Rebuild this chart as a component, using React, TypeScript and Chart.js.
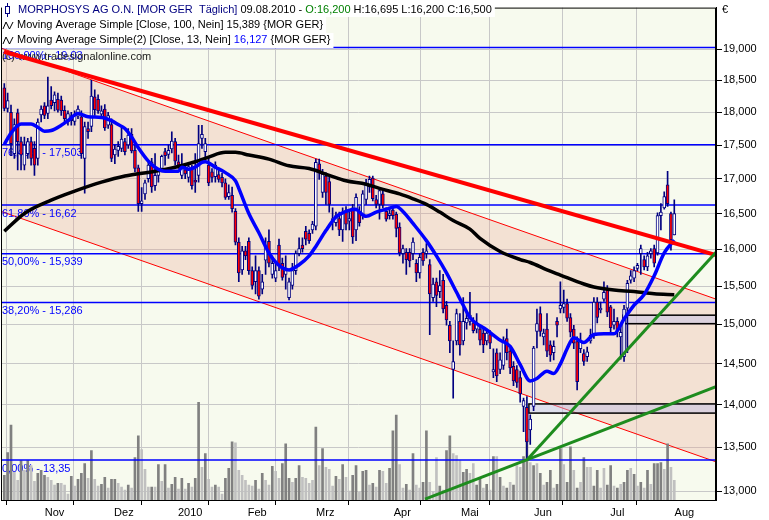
import React, { useEffect, useRef } from 'react';
import { Chart, registerables } from 'chart.js';
Chart.register(...registerables);

// ---- daily candles (23.10.2009 .. 09.08.2010), index = trading day ----
const opens = [
  18.38,18.06,18.00,17.37,17.99,17.55,17.20,17.37,17.55,17.45,
  17.30,17.96,18.10,17.98,18.19,18.15,18.20,18.19,18.03,17.85,
  17.95,17.86,17.94,17.93,17.30,17.75,17.78,18.24,18.20,17.97,
  18.05,17.80,17.81,17.35,17.42,17.45,17.55,17.50,17.66,17.42,
  17.16,16.64,16.78,17.00,17.25,16.90,17.05,17.15,17.40,17.36,
  17.44,17.55,17.25,17.05,17.13,17.02,17.16,16.98,17.05,17.60,
  17.40,17.20,17.10,17.03,17.06,17.02,16.94,16.74,16.76,16.53,
  16.10,15.72,15.98,16.11,15.71,15.56,15.71,15.46,15.85,16.11,
  15.66,15.61,16.06,15.81,15.66,15.35,15.51,15.71,15.94,16.06,
  16.25,16.22,16.27,16.32,17.22,16.80,17.04,16.96,16.41,16.37,
  16.43,16.27,16.52,16.39,16.58,16.27,16.52,16.47,16.70,16.88,
  17.01,16.70,16.63,16.78,16.53,16.47,16.55,16.49,16.31,15.94,
  15.96,15.96,15.94,15.81,15.68,15.96,15.94,15.79,15.35,15.56,
  15.43,15.58,15.25,14.99,14.43,14.79,15.04,14.79,15.02,15.04,
  15.02,14.94,14.94,14.89,14.79,14.87,14.40,14.64,14.43,14.48,
  14.82,14.66,14.47,14.43,14.33,13.98,13.97,13.70,13.98,14.91,
  15.14,14.84,14.94,14.74,14.64,15.04,15.20,15.22,15.27,15.09,
  14.94,14.78,14.69,14.63,14.59,14.79,14.86,15.29,15.19,15.33,
  15.46,15.23,14.99,15.04,14.84,14.59,15.21,15.58,15.61,15.74,
  15.94,15.86,15.76,15.94,16.01,15.95,16.47,16.58,16.91,16.50,
  16.20,
];
const highs = [
  18.45,18.30,18.11,17.90,18.05,17.62,17.62,17.60,17.62,17.55,
  17.90,18.10,18.15,18.55,18.40,18.32,18.30,18.25,18.10,18.02,
  18.00,18.02,18.10,18.02,17.85,17.85,18.50,18.35,18.27,18.10,
  18.12,18.00,17.90,17.50,17.55,17.80,17.60,17.75,17.75,17.50,
  17.20,16.87,16.98,17.25,17.30,17.37,17.15,17.35,17.45,17.50,
  17.70,17.60,17.35,17.37,17.20,17.20,17.20,17.37,17.80,17.80,
  17.60,17.30,17.15,17.25,17.15,17.08,17.00,16.91,16.88,16.57,
  16.16,16.04,16.04,16.16,15.76,15.91,15.76,15.66,16.16,16.27,
  15.91,15.81,16.14,15.88,15.91,15.61,15.81,15.98,16.16,16.16,
  16.32,16.27,16.39,17.29,17.29,17.14,17.09,17.02,16.58,16.52,
  16.52,16.58,16.60,16.52,16.63,16.78,16.60,16.83,16.99,17.04,
  17.04,16.76,16.86,16.83,16.58,16.58,16.58,16.52,16.37,16.06,
  16.01,16.01,16.16,15.86,15.94,16.01,16.08,15.86,15.61,15.61,
  15.71,15.66,15.30,15.04,14.79,15.20,15.14,15.35,15.14,15.42,
  15.09,15.14,14.99,14.94,14.94,14.92,14.69,14.69,14.64,14.84,
  14.94,14.72,14.53,14.48,14.41,14.08,14.10,13.88,14.72,15.20,
  15.23,14.94,15.14,14.79,14.79,15.09,15.56,15.45,15.33,15.14,
  14.99,14.84,14.89,14.68,14.71,14.94,15.35,15.35,15.29,15.56,
  15.51,15.25,15.20,15.09,14.99,15.25,15.58,15.71,15.76,15.81,
  16.06,15.91,15.96,16.01,16.06,16.51,16.64,16.81,17.11,16.52,
  16.695,
];
const lows = [
  18.02,18.00,17.34,17.30,17.13,17.13,17.13,17.30,17.20,17.05,
  17.20,17.85,17.90,17.90,18.05,18.02,18.00,17.95,17.85,17.80,
  17.80,17.80,17.90,17.30,16.79,17.60,17.70,17.95,17.98,17.90,
  17.72,17.75,17.25,17.22,17.33,17.40,17.35,17.45,17.38,17.10,
  16.53,16.53,16.70,16.95,16.80,16.83,16.95,17.10,17.20,17.30,
  17.38,17.20,17.15,17.00,17.00,16.95,16.85,16.80,16.95,17.45,
  17.30,16.90,16.95,16.95,16.95,16.88,16.70,16.70,16.52,16.06,
  15.56,15.66,15.86,15.66,15.46,15.40,15.33,15.40,15.66,15.76,
  15.61,15.56,15.71,15.58,15.46,15.32,15.46,15.66,15.91,15.96,
  16.06,16.08,16.22,16.27,16.99,16.73,16.63,16.52,16.27,16.32,
  16.19,16.11,16.27,16.27,16.08,16.12,16.32,16.42,16.63,16.80,
  16.68,16.58,16.42,16.58,16.39,16.42,16.42,16.17,15.91,15.81,
  15.66,15.76,15.86,15.56,15.61,15.78,15.88,14.87,15.30,15.23,
  15.35,15.15,14.99,14.64,14.08,14.74,14.61,14.74,14.94,14.99,
  14.89,14.89,14.74,14.64,14.74,14.69,14.33,14.28,14.38,14.43,
  14.55,14.38,14.23,14.21,14.03,13.68,13.35,13.53,13.93,14.70,
  14.85,14.74,14.59,14.53,14.55,14.84,15.15,15.15,15.04,14.84,
  14.69,14.18,14.64,14.48,14.53,14.76,14.82,15.02,15.15,15.30,
  15.10,14.90,14.94,14.84,14.56,14.53,14.64,15.54,15.56,15.71,
  15.66,15.72,15.71,15.88,15.76,15.92,16.27,16.56,16.60,15.99,
  16.20,
];
const closes = [
  18.06,18.18,17.52,17.81,17.55,17.35,17.50,17.55,17.30,17.20,
  17.85,18.05,17.95,18.10,18.10,18.27,18.03,18.02,17.90,17.98,
  17.87,17.96,18.05,17.37,17.78,17.70,18.25,18.04,18.02,18.02,
  17.76,17.95,17.30,17.44,17.48,17.59,17.40,17.65,17.41,17.15,
  16.64,16.68,16.94,17.20,16.88,17.05,17.12,17.33,17.34,17.42,
  17.56,17.26,17.20,17.15,17.07,17.18,16.90,16.95,17.52,17.66,
  17.52,16.94,17.02,17.20,16.99,16.94,16.73,16.80,16.57,16.10,
  15.68,15.98,15.91,15.71,15.51,15.71,15.37,15.56,16.04,15.81,
  15.81,15.71,15.78,15.62,15.71,15.56,15.71,15.94,16.01,16.01,
  16.14,16.12,16.35,17.24,17.09,17.07,16.80,16.63,16.43,16.47,
  16.27,16.52,16.35,16.43,16.17,16.73,16.37,16.78,16.93,16.99,
  16.71,16.63,16.83,16.62,16.42,16.50,16.47,16.29,15.95,16.01,
  15.86,15.84,16.10,15.68,15.89,15.84,15.98,15.40,15.53,15.38,
  15.51,15.20,15.06,14.79,14.53,15.14,14.74,15.04,15.08,15.12,
  14.92,15.02,14.80,14.74,14.89,14.76,14.43,14.35,14.55,14.79,
  14.64,14.45,14.29,14.27,14.13,14.05,13.56,13.83,14.70,15.01,
  14.91,14.89,14.66,14.61,14.72,14.99,15.25,15.27,15.08,14.90,
  14.76,14.28,14.79,14.53,14.65,14.86,15.29,15.09,15.21,15.42,
  15.16,14.96,15.04,14.92,14.90,15.20,15.54,15.64,15.71,15.78,
  16.01,15.76,15.91,15.98,15.81,16.47,16.52,16.74,16.64,16.13,
  16.50,
];
// volume in thousand shares, tone 1 = dark bar, 0 = light bar
const volumes = [
  100,192,304,112,80,160,120,160,140,76,
  108,120,100,92,80,60,68,68,60,24,
  96,56,84,108,148,88,200,84,56,64,
  92,48,84,84,68,52,40,60,48,172,
  260,204,124,52,52,52,144,76,144,48,
  64,92,44,88,44,68,52,88,396,132,
  188,84,52,60,52,24,88,128,236,232,
  120,100,80,60,56,80,44,108,80,60,
  136,116,88,148,228,88,72,88,140,92,
  88,68,80,296,140,208,132,124,56,96,
  84,144,92,36,100,140,32,116,120,60,
  68,52,120,116,68,128,280,344,144,48,
  64,40,188,60,48,72,280,72,32,172,
  56,40,200,260,188,180,160,112,124,108,
  148,60,92,48,64,40,176,176,92,56,
  48,72,60,140,132,176,248,152,140,148,
  108,60,72,120,48,64,208,144,72,216,
  120,48,72,172,132,132,56,120,48,128,
  60,140,56,48,64,72,120,128,104,56,
  72,48,120,64,148,148,152,124,228,132,
  80,
];
const volTone = [
  1,1,1,0,0,1,0,1,0,0, 1,1,1,0,0,0,1,0,0,0, 1,0,1,1,1,0,1,0,0,1, 1,0,1,1,0,0,0,1,0,1,
  1,0,0,0,1,0,1,0,1,0, 1,1,0,1,0,1,0,1,1,0, 1,0,0,1,0,0,1,1,1,0, 0,0,0,0,0,1,0,1,0,0,
  1,0,0,1,1,1,0,1,1,0, 0,0,0,1,0,1,0,0,0,1, 0,1,0,0,1,1,0,1,1,0, 1,0,1,0,0,1,1,1,0,0,
  1,0,1,0,0,1,1,0,0,0, 1,0,1,1,0,0,0,1,1,0, 0,1,1,0,1,0,1,0,1,0, 1,0,1,0,0,1,1,0,1,0,
  1,0,1,1,0,1,1,0,1,1, 0,1,0,1,0,0,1,1,0,0, 1,1,0,1,0,1,1,0,1,0, 1,0,1,0,1,1,1,0,1,0,
  0,
];

// ---- moving averages (day index, value) ----
const ma100Idx = [0,6,14,21,29,36,45,51,57,61,66,69,73,79,85,91,97,102,108,112,118,122,126,130,134,139,142,148,154,157,162,166,173,176,182,188,194,200];
const ma100Val = [16.25,16.50,16.69,16.82,16.95,17.04,17.11,17.17,17.25,17.32,17.39,17.39,17.35,17.29,17.19,17.15,17.05,16.97,16.92,16.86,16.78,16.71,16.63,16.52,16.40,16.28,16.15,15.97,15.86,15.82,15.72,15.65,15.53,15.49,15.45,15.43,15.40,15.389];
const ma13Idx = [0,2,5,8,10,12,14,17,19,22,25,29,32,34,36,38,40,43,45,48,52,53,55,57,59,60,63,66,69,70,73,76,79,82,85,88,91,93,96,99,102,105,106,108,111,114,117,119,122,126,129,132,135,137,139,144,148,151,154,157,159,162,164,166,168,170,173,176,179,182,185,188,191,194,197,200];
const ma13Val = [17.51,17.68,17.82,17.82,17.77,17.71,17.72,17.80,17.87,17.98,17.93,17.92,17.87,17.81,17.75,17.62,17.46,17.26,17.17,17.11,17.11,17.17,17.14,17.17,17.24,17.25,17.17,17.09,16.97,16.86,16.50,16.23,15.95,15.78,15.72,15.79,15.91,16.04,16.26,16.45,16.53,16.56,16.52,16.46,16.52,16.56,16.60,16.53,16.36,16.12,15.91,15.68,15.42,15.25,15.09,14.93,14.80,14.72,14.49,14.29,14.32,14.41,14.38,14.50,14.69,14.83,14.77,14.87,14.88,14.88,15.07,15.25,15.39,15.64,15.95,16.127];

// ---- drawn studies (day index, price) ----
const channelIdx = [-0.985, 212.45];
const channelUpper = [19.02, 15.33];
const channelLower = [16.53, 13.33];
const resistIdx = [-0.1, 212.45];
const resistVal = [18.96, 15.92];
const supportSteepIdx = [156, 212.45];
const supportSteepVal = [13.35, 15.96];
const supportFlatIdx = [125.6, 212.45];
const supportFlatVal = [12.91, 14.22];
const boxFrom = [156.6, 184.7];
const boxLow = [13.90, 15.01];
const boxHigh = [14.01, 15.12];

// ---- Fibonacci retracement ----
const fibPct = ['100,00%', '76,40%', '61,80%', '50,00%', '38,20%', '0,00%'];
const fibVal = [19.03, 17.503, 16.62, 15.939, 15.286, 13.35];
const fibText = ['19,03', '17,503', '16,62', '15,939', '15,286', '13,35'];

// ---- axes ----
const yTicks = [13, 13.5, 14, 14.5, 15, 15.5, 16, 16.5, 17, 17.5, 18, 18.5, 19];
const monthBounds = [5.5, 26.5, 46.5, 66.5, 86.5, 109.5, 129.5, 150.5, 172.5, 194.5];
const monthLabelPos = [15, 35.7, 55.5, 75.5, 95.8, 118.8, 139, 160.8, 183, 203];
const monthNames = ['Nov', 'Dez', '2010', 'Feb', 'Mrz', 'Apr', 'Mai', 'Jun', 'Jul', 'Aug'];

const X_MIN = -0.985;
const X_MAX = 212.45;
const Y_MIN = 12.91;
const Y_MAX = 19.693;
const FAMILY = '"Liberation Sans", Arial, sans-serif';
const FONT = '11px ' + FAMILY;

const fmt3 = (v: number) => v.toFixed(3).replace('.', ',');
const pts = (xs: number[], ys: number[]) => xs.map((x, k) => ({ x, y: ys[k] }));

export default function App() {
  const ref = useRef<HTMLCanvasElement>(null);

  useEffect(() => {
    const canvas = ref.current;
    if (!canvas) return;
    const n = opens.length - 1;
    const idx = opens.map((_, i) => i);
    const boundSet = new Set(monthBounds);
    const labelMap = new Map<number, string>();
    monthLabelPos.forEach((p, k) => labelMap.set(p, monthNames[k]));
    const xTickVals = [...monthBounds, ...monthLabelPos].sort((a, b) => a - b);

    const datasets: any[] = [];
    datasets.push({
      type: 'line', label: 'channelUpper', data: pts(channelIdx, channelUpper),
      borderColor: '#ff0000', borderWidth: 1, pointRadius: 0, fill: '+1',
      backgroundColor: 'rgba(236,170,150,0.3)', order: 100,
    });
    datasets.push({
      type: 'line', label: 'channelLower', data: pts(channelIdx, channelLower),
      borderColor: '#ff0000', borderWidth: 1, pointRadius: 0, fill: false, order: 99,
    });
    datasets.push({
      type: 'bar', label: 'volume', yAxisID: 'yv', grouped: false,
      data: idx.map((i) => ({ x: i, y: volumes[i] })),
      backgroundColor: idx.map((i) => (volTone[i] ? '#808080' : '#c0c0c0')),
      barThickness: 2, order: 90,
    });
    fibVal.forEach((v, k) => {
      datasets.push({
        type: 'line', label: 'fib' + k, data: [{ x: X_MIN, y: v }, { x: X_MAX, y: v }],
        borderColor: '#0000ff', borderWidth: 1.5, pointRadius: 0, fill: false, order: 80,
      });
    });
    datasets.push({
      type: 'bar', label: 'wick', grouped: false,
      data: idx.map((i) => ({ x: i, y: [lows[i], highs[i]] })),
      backgroundColor: '#000080', barThickness: 1, order: 50,
    });
    datasets.push({
      type: 'bar', label: 'body', grouped: false,
      data: idx.map((i) => ({ x: i, y: [opens[i], closes[i]] })),
      backgroundColor: idx.map((i) => (closes[i] >= opens[i] ? '#ffffff' : '#ff0000')),
      borderColor: '#000080', borderWidth: 1, borderSkipped: false,
      barThickness: 3, minBarLength: 1, order: 49,
    });
    datasets.push({
      type: 'line', label: 'ma100', data: pts(ma100Idx, ma100Val),
      borderColor: '#000000', borderWidth: 3.5, pointRadius: 0, fill: false,
      cubicInterpolationMode: 'monotone', order: 20,
    });
    datasets.push({
      type: 'line', label: 'ma13', data: pts(ma13Idx, ma13Val),
      borderColor: '#0000ff', borderWidth: 3.5, pointRadius: 0, fill: false,
      cubicInterpolationMode: 'monotone', order: 19,
    });
    datasets.push({
      type: 'line', label: 'resistance', data: pts(resistIdx, resistVal),
      borderColor: '#ff0000', borderWidth: 4, pointRadius: 0, fill: false, order: 10,
    });
    datasets.push({
      type: 'line', label: 'supportSteep', data: pts(supportSteepIdx, supportSteepVal),
      borderColor: '#1e8c1e', borderWidth: 3, pointRadius: 0, fill: false, order: 5,
    });
    datasets.push({
      type: 'line', label: 'supportFlat', data: pts(supportFlatIdx, supportFlatVal),
      borderColor: '#1e8c1e', borderWidth: 3, pointRadius: 0, fill: false, order: 5,
    });

    const custom = {
      id: 'custom',
      beforeDraw(chart: any) {
        const { ctx, chartArea: a } = chart;
        ctx.save();
        ctx.fillStyle = '#ffffff';
        ctx.fillRect(0, 0, chart.width, chart.height);
        ctx.fillStyle = '#f7faee';
        ctx.fillRect(a.left, a.top, a.right - a.left, a.bottom - a.top);
        ctx.restore();
      },
      afterDatasetDraw(chart: any, args: any) {
        const ds = chart.data.datasets[args.index];
        if (ds.label !== 'channelLower') return;
        const { ctx, chartArea: a, scales } = chart;
        const xs = scales.x;
        const ys = scales.y;
        ctx.save();
        ctx.beginPath();
        ctx.rect(a.left, a.top, a.right - a.left, a.bottom - a.top);
        ctx.clip();
        // boxes
        boxFrom.forEach((f, k) => {
          const x0 = xs.getPixelForValue(f);
          const y0 = ys.getPixelForValue(boxHigh[k]);
          const y1 = ys.getPixelForValue(boxLow[k]);
          ctx.fillStyle = 'rgba(190,190,232,0.45)';
          ctx.fillRect(x0, y0, a.right - x0, y1 - y0);
          ctx.strokeStyle = '#000000';
          ctx.lineWidth = 1.5;
          ctx.strokeRect(x0, y0, a.right - x0 + 4, y1 - y0);
        });
        // fib labels
        ctx.font = FONT;
        ctx.textBaseline = 'top';
        ctx.fillStyle = '#0000ff';
        fibVal.forEach((v, k) => {
          const y = ys.getPixelForValue(v);
          ctx.fillText(fibPct[k] + ' - ' + fibText[k], a.left + 1, y + 3);
        });
        // copyright
        ctx.fillStyle = '#202020';
        ctx.textBaseline = 'middle';
        ctx.fillText('(c) www.tradesignalonline.com', a.left + 1, 57);
        ctx.restore();
      },
      afterDraw(chart: any) {
        const { ctx, chartArea: a } = chart;
        ctx.save();
        ctx.strokeStyle = '#000000';
        ctx.lineWidth = 1;
        ctx.strokeRect(a.left + 0.5, a.top + 0.5, a.right - a.left - 1, a.bottom - a.top);
        // legend
        ctx.font = FONT;
        ctx.textBaseline = 'middle';
        const rows: { y: number; top: number; bottom: number; x0: number; segs: [string, string][] }[] = [
          {
            y: 10, top: 1, bottom: 17, x0: 18,
            segs: [
              ['MORPHOSYS AG O.N. [MOR GER  Täglich]', '#000080'],
              [' 09.08.2010 - ', '#000000'],
              ['O:' + fmt3(opens[n]), '#008000'],
              [' H:' + fmt3(highs[n]) + ' L:' + fmt3(lows[n]) + ' C:' + fmt3(closes[n]), '#000000'],
            ],
          },
          {
            y: 25, top: 17, bottom: 33, x0: 17,
            segs: [['Moving Average Simple [Close, 100, Nein] ' + fmt3(ma100Val[ma100Val.length - 1]) + ' {MOR GER}', '#000000']],
          },
          {
            y: 40, top: 33, bottom: 48, x0: 17,
            segs: [
              ['Moving Average Simple(2) [Close, 13, Nein] ', '#000000'],
              [fmt3(ma13Val[ma13Val.length - 1]), '#0000ff'],
              [' {MOR GER}', '#000000'],
            ],
          },
        ];
        rows.forEach((r) => {
          const w = r.segs.reduce((s, sg) => s + ctx.measureText(sg[0]).width, 0);
          ctx.fillStyle = '#ffffff';
          ctx.fillRect(a.left + 1, r.top, r.x0 + w + 3 - (a.left + 1), r.bottom - r.top);
          let x = r.x0;
          r.segs.forEach((sg) => {
            ctx.fillStyle = sg[1];
            ctx.fillText(sg[0], x, r.y);
            x += ctx.measureText(sg[0]).width;
          });
        });
        // candle icon
        ctx.strokeStyle = '#000080';
        ctx.lineWidth = 1;
        ctx.beginPath();
        ctx.moveTo(7.5, 3);
        ctx.lineTo(7.5, 17);
        ctx.stroke();
        ctx.fillStyle = '#ffffff';
        ctx.fillRect(5.5, 6.5, 4, 7);
        ctx.strokeRect(5.5, 6.5, 4, 7);
        // wave icons
        ctx.strokeStyle = '#000000';
        [25, 40].forEach((y) => {
          ctx.beginPath();
          ctx.moveTo(3, y + 4);
          ctx.lineTo(6, y - 3);
          ctx.lineTo(9.5, y + 4);
          ctx.lineTo(13, y - 3);
          ctx.stroke();
        });
        // currency
        ctx.fillStyle = '#000000';
        ctx.textBaseline = 'middle';
        ctx.fillText('€', a.right + 6, 10);
        ctx.restore();
      },
    };

    const chart = new Chart(canvas, {
      type: 'bar',
      data: { datasets },
      options: {
        responsive: false,
        animation: false,
        events: [],
        layout: { padding: { left: 1, top: 1, right: 0, bottom: 0 } },
        plugins: { legend: { display: false }, tooltip: { enabled: false }, title: { display: false } },
        scales: {
          x: {
            type: 'linear', position: 'bottom', min: X_MIN, max: X_MAX, offset: false,
            afterBuildTicks: (s: any) => { s.ticks = xTickVals.map((v) => ({ value: v })); },
            afterFit: (s: any) => { s.height = 20; },
            grid: {
              color: (c: any) => (c.tick && boundSet.has(c.tick.value) ? '#c8c8c8' : 'rgba(0,0,0,0)'),
              tickColor: (c: any) => (c.tick && boundSet.has(c.tick.value) ? '#000000' : 'rgba(0,0,0,0)'),
              tickLength: 5, lineWidth: 1,
            },
            border: { color: '#000000', width: 1 },
            ticks: {
              autoSkip: false, maxRotation: 0, minRotation: 0, padding: 1, color: '#000000',
              font: { family: FAMILY, size: 11 },
              callback: (v: any) => labelMap.get(Number(v)) ?? '',
            },
          },
          y: {
            type: 'logarithmic', position: 'right', min: Y_MIN, max: Y_MAX,
            afterBuildTicks: (s: any) => { s.ticks = yTicks.map((v) => ({ value: v })); },
            afterFit: (s: any) => { s.width = 53; },
            grid: { color: '#c8c8c8', tickColor: '#000000', tickLength: 6, lineWidth: 1 },
            border: { color: '#000000', width: 1 },
            ticks: {
              autoSkip: false, padding: 1, color: '#000000',
              font: { family: FAMILY, size: 11 },
              callback: (v: any) => fmt3(Number(v)),
            },
          },
          yv: { type: 'linear', display: false, min: 0, max: 1996 },
        },
      } as any,
      plugins: [custom],
    });
    return () => chart.destroy();
  }, []);

  return (
    <div style={{ position: 'fixed', left: 0, top: 0, width: 769, height: 520, background: '#fff' }}>
      <canvas ref={ref} width={769} height={520} />
    </div>
  );
}
